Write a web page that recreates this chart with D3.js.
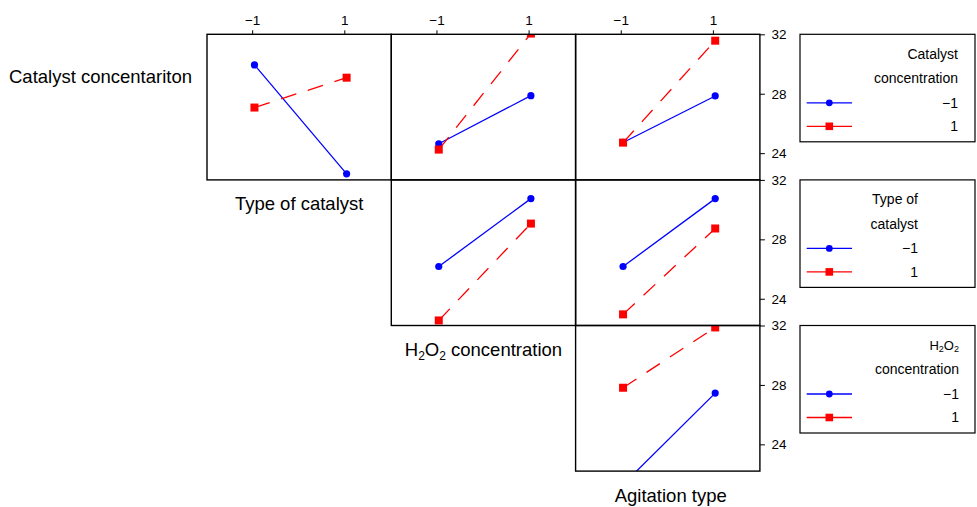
<!doctype html>
<html>
<head>
<meta charset="utf-8">
<title>Interaction plot matrix</title>
<script src="https://d3js.org/d3.v7.min.js"></script>
<style>
  body { margin: 0; background: #fff; }
  svg text { font-family: "Liberation Sans", Arial, sans-serif; fill: #000; }
</style>
</head>
<body>
<svg id="chart" width="977" height="507"></svg>
<script>
// factor levels and tick labels
const xLevels = [-1, 1];
const xTickLabels = ["\u22121", "1"];
const yTicks = [24, 28, 32];
const traceLabels = ["\u22121", "1"];

// mean response, [trace level -1 values, trace level 1 values] at x = -1, 1
// row 1: trace = Catalyst concentration
const catConcByType = [[29.94, 22.61], [27.07, 29.08]];
const catConcByH2O2 = [[24.63, 27.87], [24.24, 32.05]];
const catConcByAgit = [[24.72, 27.85], [24.71, 31.57]];
// row 2: trace = Type of catalyst
const typeByH2O2 = [[26.17, 30.74], [22.54, 29.06]];
const typeByAgit = [[26.17, 30.74], [22.95, 28.73]];
// row 3: trace = H2O2 concentration
const h2o2ByAgit = [[21.3, 27.45], [27.81, 31.87]];

const panels = [
  {row: 0, col: 0, values: catConcByType},
  {row: 0, col: 1, values: catConcByH2O2},
  {row: 0, col: 2, values: catConcByAgit},
  {row: 1, col: 1, values: typeByH2O2},
  {row: 1, col: 2, values: typeByAgit},
  {row: 2, col: 2, values: h2o2ByAgit}
];

const svg = d3.select("#chart");

const gridLeft = 207, gridTop = 34.3, cellW = 184.3, cellH = 145.6;
const colors = ["#0000ff", "#ff0000"];
const dashes = [null, "16,12"];
const shift = 0.05; // points sit slightly right of the ticks

const x = d3.scaleLinear().domain([-1.98, 2.02]).range([0, cellW]);
const y = d3.scaleLinear().domain([22.2, 32]).range([cellH, 0]);

// panels
panels.forEach(function(p, i) {
  const g = svg.append("g")
    .attr("transform", `translate(${gridLeft + p.col * cellW},${gridTop + p.row * cellH})`);

  svg.append("clipPath").attr("id", "clip" + i)
    .append("rect").attr("width", cellW).attr("height", cellH);

  const inner = g.append("g").attr("clip-path", `url(#clip${i})`);

  p.values.forEach(function(vals, k) {
    const pts = vals.map((v, j) => [x(xLevels[j] + shift), y(v)]);
    inner.append("path")
      .attr("d", d3.line()(pts))
      .attr("fill", "none")
      .attr("stroke", colors[k])
      .attr("stroke-width", 1.3)
      .attr("stroke-dasharray", dashes[k]);
    if (k == 0) {
      inner.selectAll(null).data(pts).join("circle")
        .attr("cx", d => d[0]).attr("cy", d => d[1])
        .attr("r", 3.6).attr("fill", colors[k]);
    } else {
      inner.selectAll(null).data(pts).join("rect")
        .attr("x", d => d[0] - 4).attr("y", d => d[1] - 4)
        .attr("width", 8).attr("height", 8).attr("fill", colors[k]);
    }
  });

  g.append("rect")
    .attr("width", cellW).attr("height", cellH)
    .attr("fill", "none").attr("stroke", "#000").attr("stroke-width", 1.4);
});

// top axes
for (let c = 0; c < 3; c++) {
  const ax = svg.append("g")
    .attr("transform", `translate(${gridLeft + c * cellW},${gridTop})`)
    .call(d3.axisTop(x).tickValues(xLevels).tickSize(4).tickPadding(5)
      .tickFormat((d, i) => xTickLabels[i]));
  ax.select(".domain").remove();
  ax.selectAll("text").attr("font-size", "13.5px").attr("font-family", null);
}

// right axes
for (let r = 0; r < 3; r++) {
  const ax = svg.append("g")
    .attr("transform", `translate(${gridLeft + 3 * cellW},${gridTop + r * cellH})`)
    .call(d3.axisRight(y).tickValues(yTicks).tickSize(5).tickPadding(6.5));
  ax.select(".domain").remove();
  ax.selectAll("text").attr("font-size", "13.5px").attr("font-family", null);
}

// factor labels
svg.append("text")
  .attr("x", 9).attr("y", 76.7).attr("dy", "0.35em")
  .attr("font-size", "18.5px")
  .text("Catalyst concentariton");

svg.append("text")
  .attr("x", gridLeft + 0.5 * cellW).attr("y", gridTop + cellH + 23.5).attr("dy", "0.35em")
  .attr("text-anchor", "middle").attr("font-size", "18.5px")
  .text("Type of catalyst");

const h2o2Label = svg.append("text")
  .attr("x", gridLeft + 1.5 * cellW).attr("y", gridTop + 2 * cellH + 24).attr("dy", "0.35em")
  .attr("text-anchor", "middle").attr("font-size", "18.5px");
h2o2Label.append("tspan").text("H");
h2o2Label.append("tspan").attr("font-size", "12px").attr("dy", 4).text("2");
h2o2Label.append("tspan").attr("dy", -4).text("O");
h2o2Label.append("tspan").attr("font-size", "12px").attr("dy", 4).text("2");
h2o2Label.append("tspan").attr("dy", -4).text(" concentration");

svg.append("text")
  .attr("x", gridLeft + 2.5 * cellW + 3).attr("y", gridTop + 3 * cellH + 24).attr("dy", "0.35em")
  .attr("text-anchor", "middle").attr("font-size", "18.5px")
  .text("Agitation type");

// legends
const legendTitles = [["Catalyst", "concentration"], ["Type of", "catalyst"], ["H2O2", "concentration"]];
const legendRight = [958, 918, 959];

for (let r = 0; r < 3; r++) {
  const g = svg.append("g").attr("transform", `translate(800,${gridTop + r * cellH})`);
  g.append("rect")
    .attr("width", 175).attr("height", 107.5)
    .attr("fill", "#fff").attr("stroke", "#000").attr("stroke-width", 1.2);

  const tx = legendRight[r] - 800;
  legendTitles[r].forEach(function(t, i) {
    const txt = g.append("text")
      .attr("x", tx).attr("y", 19.5 + i * 24.5).attr("dy", "0.35em")
      .attr("text-anchor", "end").attr("font-size", "14px");
    if (t == "H2O2") {
      txt.attr("font-size", "13px");
      txt.append("tspan").text("H");
      txt.append("tspan").attr("font-size", "9px").attr("dy", 2.5).text("2");
      txt.append("tspan").attr("dy", -2.5).text("O");
      txt.append("tspan").attr("font-size", "9px").attr("dy", 2.5).text("2");
    } else {
      txt.text(t);
    }
  });

  traceLabels.forEach(function(lab, k) {
    const ly = 68.5 + k * 23.5;
    g.append("line")
      .attr("x1", 6.7).attr("x2", 52).attr("y1", ly).attr("y2", ly)
      .attr("stroke", colors[k]).attr("stroke-width", 1.3);
    if (k == 0) {
      g.append("circle").attr("cx", 29.3).attr("cy", ly).attr("r", 3.4).attr("fill", colors[k]);
    } else {
      g.append("rect").attr("x", 25.5).attr("y", ly - 3.8)
        .attr("width", 7.6).attr("height", 7.6).attr("fill", colors[k]);
    }
    g.append("text")
      .attr("x", tx).attr("y", ly).attr("dy", "0.35em")
      .attr("text-anchor", "end").attr("font-size", "14px")
      .text(lab);
  });
}
</script>
</body>
</html>
